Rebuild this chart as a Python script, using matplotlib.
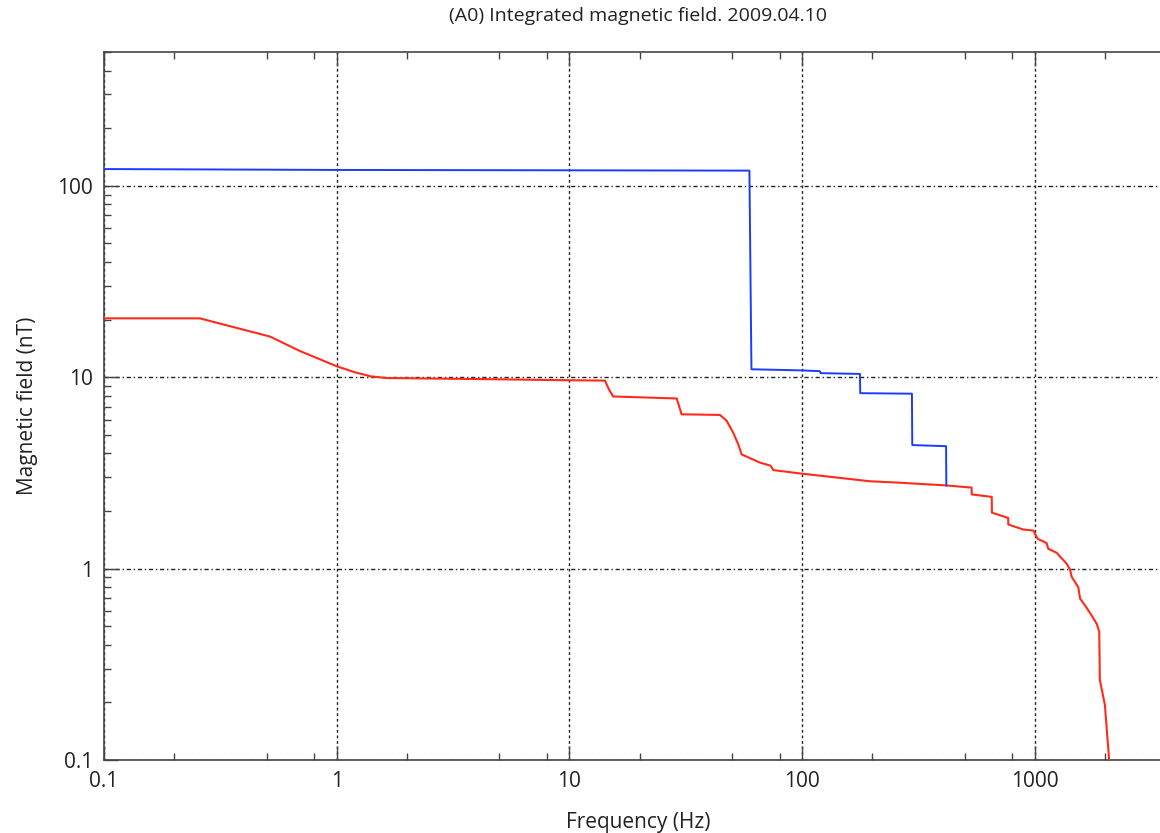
import matplotlib
matplotlib.use("Agg")
import matplotlib.pyplot as plt
from matplotlib.ticker import LogLocator, NullFormatter, FixedLocator, FixedFormatter

plt.rcParams['font.family'] = ['Open Sans', 'DejaVu Sans']

title = "(A0) Integrated magnetic field. 2009.04.10"
xlabel = "Frequency (Hz)"
ylabel = "Magnetic field (nT)"

blue_f = [0.1, 1.0, 20, 59.3, 60.5, 100, 119, 120, 177, 177.5, 296, 297, 415, 416]
blue_v = [122.3, 121, 120.3, 120, 11.0, 10.85, 10.75, 10.5, 10.4, 8.25, 8.2, 4.42, 4.36, 2.72]

red_f = [0.1, 0.258, 0.517, 0.695, 1.0, 1.2, 1.4, 1.64, 5, 9.1, 14.2, 14.8, 15.4, 28.9, 30.3,
         44.3, 47.4, 50.5, 53.1, 54.9, 65.8, 73.1, 75.1, 98.2, 195, 263, 415, 534, 535, 652, 653,
         767, 768, 891, 984, 1027, 1122, 1140, 1239, 1368, 1414, 1438, 1535, 1562, 1640,
         1752, 1841, 1888, 1900, 1997, 2083]
red_v = [20.3, 20.3, 16.3, 13.7, 11.4, 10.6, 10.1, 9.9, 9.75, 9.65, 9.6, 8.6, 7.93, 7.74, 6.4,
         6.35, 5.91, 5.13, 4.46, 3.95, 3.58, 3.45, 3.27, 3.14, 2.86, 2.81, 2.72, 2.65, 2.44, 2.37, 1.96,
         1.84, 1.70, 1.60, 1.58, 1.43, 1.36, 1.27, 1.21, 1.06, 0.99, 0.905, 0.80, 0.697, 0.643,
         0.569, 0.515, 0.47, 0.262, 0.194, 0.1]

xticks = [0.1, 1, 10, 100, 1000]
xticklabels = ["0.1", "1", "10", "100", "1000"]
yticks = [0.1, 1, 10, 100]
yticklabels = ["0.1", "1", "10", "100"]

fig = plt.figure(figsize=(11.6, 8.33), dpi=100)
ax = fig.add_axes([104/1160, 1 - 760/833, 1 - 104/1160 + 0.01, (760 - 52)/833])

ax.set_xscale('log')
ax.set_yscale('log')
ax.plot(red_f, red_v, color='#ff2a1a', lw=1.5, zorder=3)
ax.plot(blue_f, blue_v, color='#1a3cff', lw=1.4, zorder=4)

ax.set_xlim(0.1, 10 ** 3.587)
ax.set_ylim(0.1, 500)

ax.xaxis.set_major_locator(FixedLocator(xticks))
ax.xaxis.set_major_formatter(FixedFormatter(xticklabels))
ax.yaxis.set_major_locator(FixedLocator(yticks))
ax.yaxis.set_major_formatter(FixedFormatter(yticklabels))
ax.xaxis.set_minor_locator(LogLocator(base=10, subs=[2, 5, 8]))
ax.yaxis.set_minor_locator(LogLocator(base=10, subs=[2, 3, 4, 5, 6, 7, 8, 9]))
ax.xaxis.set_minor_formatter(NullFormatter())
ax.yaxis.set_minor_formatter(NullFormatter())

ax.tick_params(which='both', direction='in', top=True, right=False, colors='#444444',
               labelcolor='#222222', labelsize=15)
ax.tick_params(which='major', length=10, width=1)
ax.tick_params(which='minor', length=5, width=1)
ax.tick_params(axis='x', pad=8)
ax.tick_params(axis='y', pad=8)

for s in ['left', 'bottom', 'top']:
    ax.spines[s].set_color('#444444')
    ax.spines[s].set_linewidth(1.2)
ax.spines['right'].set_visible(False)

ax.grid(True, which='major', axis='y', color='#222222', linestyle=(0, (3, 2, 1, 2)), lw=1.0)
ax.grid(True, which='major', axis='x', color='#222222', linestyle=(0, (2, 2)), lw=1.0)

ax.set_title(title, fontsize=14, color='#222222', pad=22)
ax.set_xlabel(xlabel, fontsize=15, color='#222222', labelpad=14)
ax.set_ylabel(ylabel, fontsize=15, color='#222222', labelpad=14)

fig.savefig("out.png", dpi=100)
